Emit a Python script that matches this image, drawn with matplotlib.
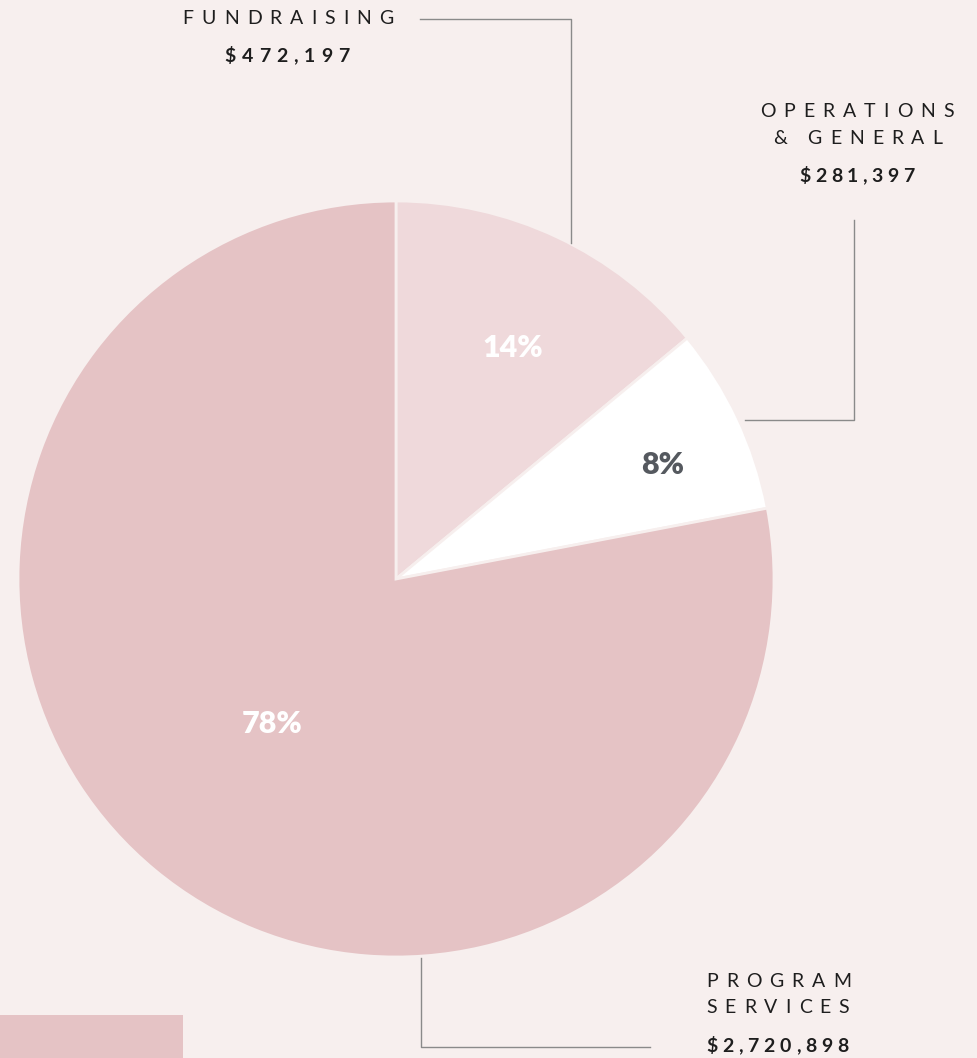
import numpy as np
import matplotlib.pyplot as plt
from matplotlib.patches import Rectangle

W, H = 977, 1058

categories = ['FUNDRAISING', 'OPERATIONS & GENERAL', 'PROGRAM SERVICES']
amounts = [472197, 281397, 2720898]
percents = [14, 8, 78]
colors = ['#EFD9DB', '#FFFFFF', '#E5C3C5']
pct_colors = ['#FFFFFF', '#55595F', '#FFFFFF']
pct_dist = [0.69, 0.77, 0.50]

BG = '#F7EFEE'
LINE = '#8A8A8A'
INK = '#1E1E1E'

fig = plt.figure(figsize=(W / 100, H / 100), dpi=100, facecolor=BG)
ax = fig.add_axes([0, 0, 1, 1])
ax.set_facecolor(BG)

cx, cy, r = 396, H - 579, 378
wedges, _ = ax.pie(percents, startangle=90, counterclock=False, colors=colors,
                   center=(cx, cy), radius=r,
                   wedgeprops=dict(edgecolor=BG, linewidth=2))
ax.set_xlim(0, W)
ax.set_ylim(0, H)
ax.set_aspect('equal')
ax.axis('off')

# percentage labels
for w, p, c, d in zip(wedges, percents, pct_colors, pct_dist):
    ang = np.deg2rad((w.theta1 + w.theta2) / 2 - 1.5)
    ax.text(cx + r * d * np.cos(ang), cy + r * d * np.sin(ang),
            f'{p}%', color=c, fontsize=22, fontweight='heavy',
            family='Lato', ha='center', va='center_baseline')

renderer = fig.canvas.get_renderer()


def spaced(s, x, ybase, track, size, weight='normal', ha='left'):
    # draw text char by char with extra letter spacing (pixel units)
    kw = dict(fontsize=size, fontweight=weight, family='Lato', color=INK, va='baseline')
    widths = []
    for ch in s:
        if ch == ' ':
            widths.append(size * 0.3)
            continue
        t = ax.text(0, 0, ch, **kw)
        widths.append(t.get_window_extent(renderer).width)
        t.remove()
    total_w = sum(widths) + track * (len(s) - 1)
    if ha == 'center':
        x = x - total_w / 2
    for ch, wd in zip(s, widths):
        if ch != ' ':
            ax.text(x, H - ybase, ch, **kw)
        x += wd + track


def money(v):
    return f'${v:,}'


# fundraising
spaced('FUNDRAISING', 288, 24, 8, 14, ha='center')
spaced(money(amounts[0]), 287, 62, 6, 14, 'bold', 'center')
# operations & general
spaced('OPERATIONS', 857, 117, 8, 14, ha='center')
spaced('& GENERAL', 858, 144, 8, 14, ha='center')
spaced(money(amounts[1]), 857, 182, 4.5, 14, 'bold', 'center')
# program services
spaced('PROGRAM', 706, 987, 8, 14)
spaced('SERVICES', 706, 1013, 8, 14)
spaced(money(amounts[2]), 706, 1052, 4.8, 14, 'bold')

# leader lines
lw = 1.0
ax.plot([420, 571, 571], [H - 19, H - 19, H - 243], color=LINE, lw=lw)
ax.plot([745, 854, 854], [H - 420, H - 420, H - 220], color=LINE, lw=lw)
ax.plot([421, 421, 650], [H - 958, H - 1047, H - 1047], color=LINE, lw=lw)

# decorative block
ax.add_patch(Rectangle((0, 0), 183, H - 1015, color='#E5C3C5', lw=0))

fig.savefig('out.png', dpi=100, facecolor=BG)
